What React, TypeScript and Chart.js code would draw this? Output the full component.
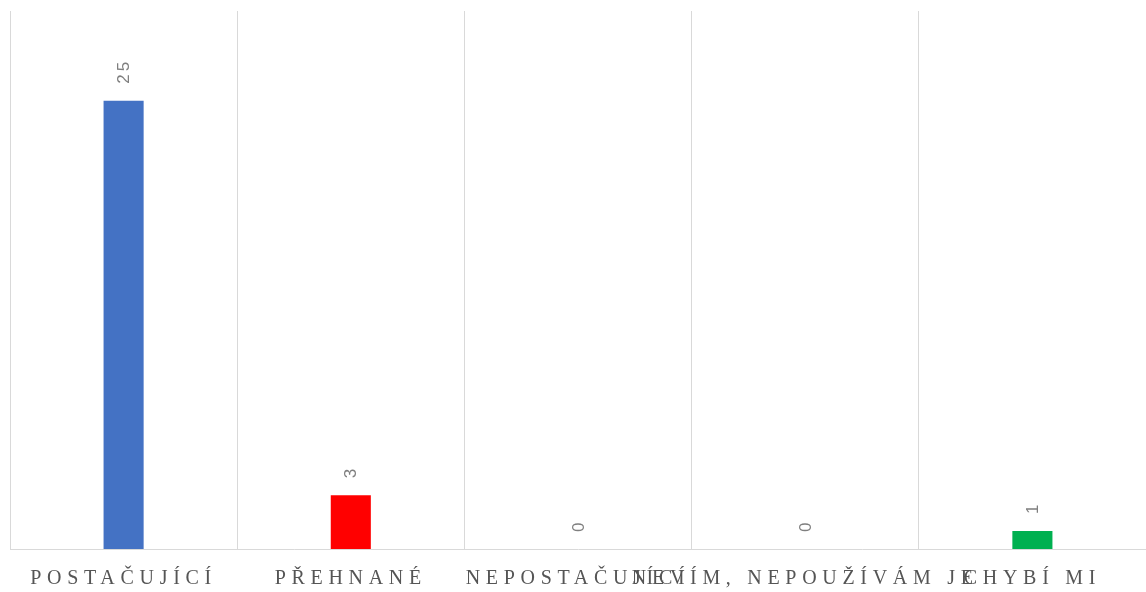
import React, { useEffect, useRef } from "react";
import { Chart, registerables } from "chart.js";

Chart.register(...registerables);

const categories = ["POSTAČUJÍCÍ", "PŘEHNANÉ", "NEPOSTAČUJÍCÍ", "NEVÍM, NEPOUŽÍVÁM JE", "CHYBÍ MI"];
const values = [25, 3, 0, 0, 1];
const barColors = ["#4472C4", "#FF0000", "#A5A5A5", "#FFC000", "#00B050"];

const labelPlugin = {
  id: "rotLabels",
  afterDatasetsDraw(chart: any) {
    const ctx = chart.ctx;
    const meta = chart.getDatasetMeta(0);
    ctx.save();
    ctx.font = "17px 'Liberation Sans', Arial, sans-serif";
    (ctx as any).letterSpacing = "3px";
    ctx.fillStyle = "#7F7F7F";
    ctx.textAlign = "left";
    ctx.textBaseline = "middle";
    meta.data.forEach((bar: any, i: number) => {
      ctx.save();
      ctx.translate(bar.x + 1, bar.y - 17);
      ctx.rotate(-Math.PI / 2);
      ctx.fillText(String(values[i]), 0, 0);
      ctx.restore();
    });
    ctx.restore();
  },
};

const spacingPlugin = {
  id: "spacing",
  beforeDraw(chart: any) {
    (chart.ctx as any).letterSpacing = "5.7px";
  },
  afterDraw(chart: any) {
    (chart.ctx as any).letterSpacing = "0px";
  },
};

export default function App() {
  const ref = useRef<HTMLCanvasElement>(null);
  useEffect(() => {
    if (!ref.current) return;
    const chart = new Chart(ref.current, {
      type: "bar",
      data: {
        labels: categories,
        datasets: [
          {
            data: values,
            backgroundColor: barColors,
            barPercentage: 0.36,
            categoryPercentage: 0.49,
          },
        ],
      },
      options: {
        animation: false,
        responsive: false,
        maintainAspectRatio: false,
        layout: { padding: { left: 10, right: 0, top: 11, bottom: 0 } },
        plugins: { legend: { display: false }, tooltip: { enabled: false } },
        scales: {
          x: {
            grid: { color: "#D9D9D9", drawTicks: false, offset: true, lineWidth: 1 },
            border: { color: "#D9D9D9", width: 1 },
            ticks: {
              color: "#555555",
              font: { family: "'Liberation Serif', 'DejaVu Serif', serif", size: 20 },
              padding: 18,
              maxRotation: 0,
              minRotation: 0,
              autoSkip: false,
            },
            afterFit(scale: any) {
              scale.height = 43;
            },
          },
          y: {
            display: false,
            min: 0,
            max: 30,
          },
        },
      },
      plugins: [spacingPlugin, labelPlugin],
    });
    return () => chart.destroy();
  }, []);
  return (
    <div style={{ position: "absolute", left: 0, top: 0, width: 1146, height: 592, background: "#fff" }}>
      <canvas ref={ref} width={1146} height={592} />
    </div>
  );
}
